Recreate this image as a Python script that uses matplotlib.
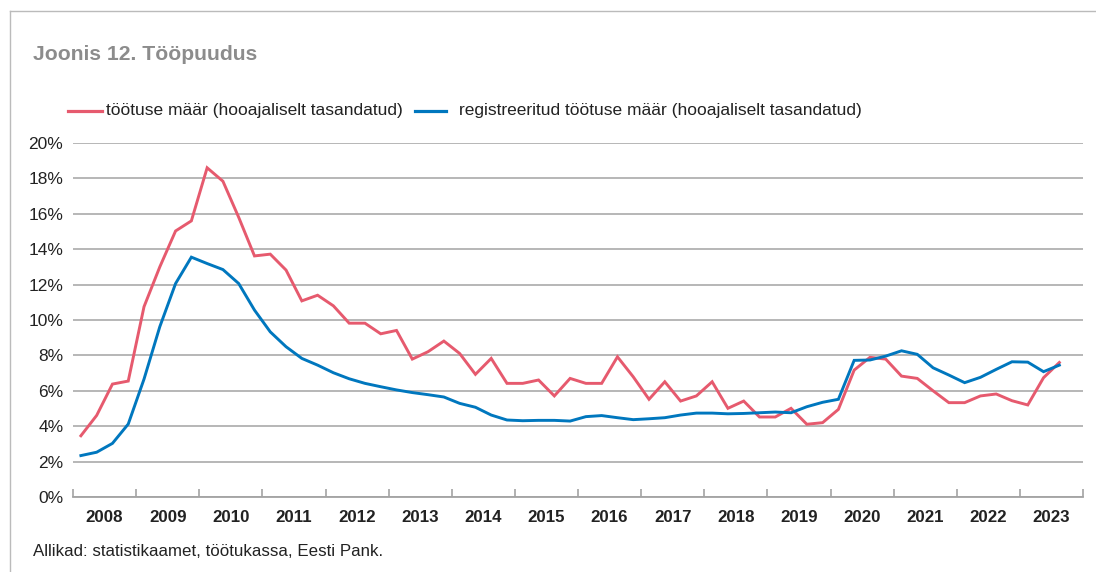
import numpy as np
import matplotlib.pyplot as plt
from matplotlib.lines import Line2D

# %% data (quarterly, 2008Q1 - 2023Q3)

years = [str(y) for y in range(2008, 2024)]

unemployment = [
    3.46, 4.61, 6.38, 6.55,      # 2008
    10.75, 13.0, 15.03, 15.6,    # 2009
    18.6, 17.84, 15.8, 13.62,    # 2010
    13.72, 12.82, 11.08, 11.4,   # 2011
    10.8, 9.82, 9.82, 9.22,      # 2012
    9.41, 7.79, 8.21, 8.81,      # 2013
    8.11, 6.93, 7.83, 6.42,      # 2014
    6.42, 6.61, 5.71, 6.70,      # 2015
    6.42, 6.42, 7.92, 6.79,      # 2016
    5.52, 6.51, 5.42, 5.71,      # 2017
    6.51, 5.01, 5.42, 4.52,      # 2018
    4.52, 5.01, 4.11, 4.2,       # 2019
    4.95, 7.17, 7.89, 7.79,      # 2020
    6.83, 6.70, 6.0, 5.33,       # 2021
    5.33, 5.71, 5.82, 5.44,      # 2022
    5.2, 6.74, 7.6,              # 2023
]

registered = [
    2.34, 2.53, 3.03, 4.12,      # 2008
    6.66, 9.62, 12.06, 13.55,    # 2009
    13.19, 12.85, 12.06, 10.56,  # 2010
    9.33, 8.49, 7.83, 7.45,      # 2011
    7.02, 6.68, 6.42, 6.23,      # 2012
    6.05, 5.9, 5.78, 5.65,       # 2013
    5.29, 5.07, 4.63, 4.35,      # 2014
    4.31, 4.33, 4.33, 4.29,      # 2015
    4.54, 4.6, 4.48, 4.37,       # 2016
    4.42, 4.48, 4.63, 4.74,      # 2017
    4.74, 4.7, 4.72, 4.76,       # 2018
    4.8, 4.76, 5.1, 5.35,        # 2019
    5.52, 7.72, 7.74, 7.96,      # 2020
    8.26, 8.06, 7.30, 6.89,      # 2021
    6.46, 6.76, 7.21, 7.64,      # 2022
    7.62, 7.08, 7.45,            # 2023
]

label_ue = 'töötuse määr (hooajaliselt tasandatud)'
label_reg = 'registreeritud töötuse määr (hooajaliselt tasandatud)'

RED = '#E65A6E'
BLUE = '#0077BE'
GRID = '#A3A3A3'
TXT = '#222222'

plt.rcParams['font.family'] = ['Liberation Sans', 'DejaVu Sans']

# %% plot

fig = plt.figure(figsize=(10.96, 5.72), dpi=100)
ax = fig.add_axes([73 / 1096, 1 - 497 / 572, 1010 / 1096, 354 / 572])

xq = np.arange(len(unemployment)) + 0.5
ax.plot(xq, unemployment, color=RED, lw=2.1, solid_joinstyle='miter', zorder=3)
ax.plot(xq[:len(registered)], registered, color=BLUE, lw=2.1, solid_joinstyle='miter', zorder=4)

ax.set_xlim(0, 4 * len(years))
ax.set_ylim(0, 20)

ax.set_yticks(np.arange(0, 21, 2))
ax.set_yticklabels([f'{v}%' for v in range(0, 21, 2)], fontsize=12.5, color=TXT)
ax.tick_params(axis='y', length=0, pad=7)
ax.yaxis.grid(True, color=GRID, lw=1.1)
ax.set_axisbelow(True)

ax.set_xticks(np.arange(0, 4 * len(years) + 1, 4))
ax.set_xticklabels([])
ax.set_xticks(np.arange(2, 4 * len(years), 4), minor=True)
ax.set_xticklabels(years, minor=True, fontsize=12.2, fontweight='bold', color=TXT)
ax.tick_params(axis='x', which='major', direction='in', length=6, color=GRID, width=1.2)
ax.tick_params(axis='x', which='minor', length=0, pad=9)

for s in ['top', 'right', 'left']:
    ax.spines[s].set_visible(False)
ax.spines['bottom'].set_color(GRID)
ax.spines['bottom'].set_linewidth(1.3)

# legend drawn by hand to match the spacing
fig.add_artist(Line2D([68 / 1096, 102 / 1096], [1 - 111 / 572] * 2, color=RED, lw=2.3))
fig.text(106 / 1096, 1 - 111 / 572, label_ue, fontsize=12.5, va='center', color=TXT)
fig.add_artist(Line2D([415 / 1096, 446 / 1096], [1 - 111 / 572] * 2, color=BLUE, lw=2.3))
fig.text(459 / 1096, 1 - 111 / 572, label_reg, fontsize=12.5, va='center', color=TXT)

fig.text(33 / 1096, 1 - 54 / 572, 'Joonis 12. Tööpuudus', fontsize=15.2, fontweight='bold',
         color='#8C8C8C', va='center')
fig.text(33 / 1096, 1 - 551 / 572, 'Allikad: statistikaamet, töötukassa, Eesti Pank.',
         fontsize=12.2, color=TXT, va='center')

# frame around the figure (top and left edges)
fig.add_artist(Line2D([10 / 1096, 1.0], [1 - 11 / 572] * 2, color='#BBBBBB', lw=1.0))
fig.add_artist(Line2D([10 / 1096] * 2, [0, 1 - 11 / 572], color='#BBBBBB', lw=1.0))

plt.savefig('out.png', dpi=100)
